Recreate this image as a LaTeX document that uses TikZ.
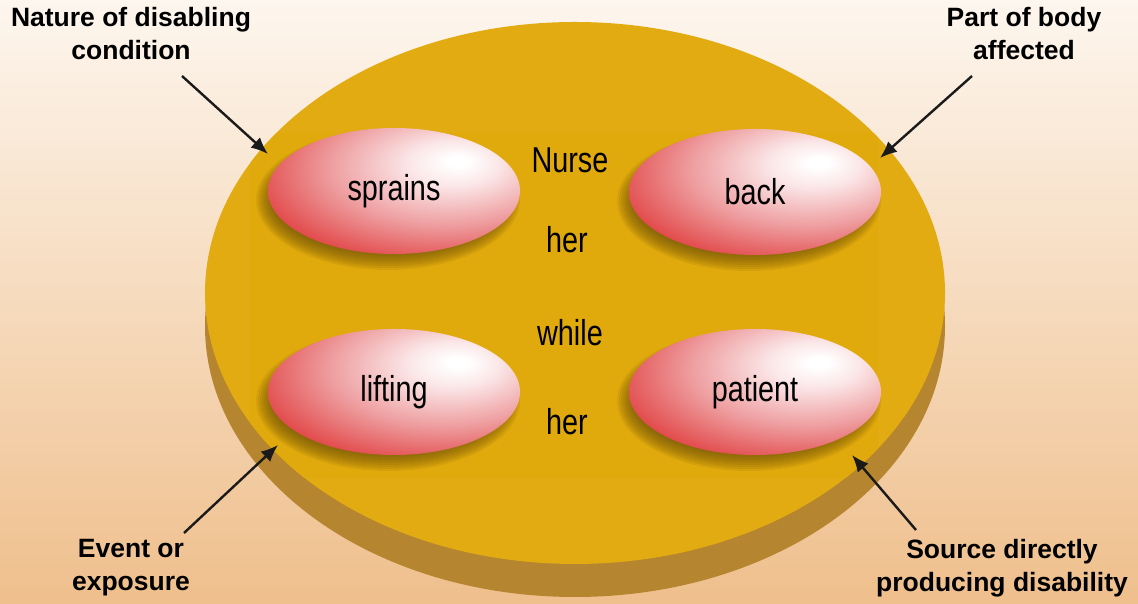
\documentclass[tikz,border=0pt]{standalone}
\usepackage{fontspec}
\setmainfont{Liberation Sans}
\newfontfamily\innerfont[FakeStretch=0.8]{Liberation Sans}
\usetikzlibrary{arrows.meta,calc}
\definecolor{bgtop}{HTML}{FDF6EE}
\definecolor{bgbot}{HTML}{EFBF8C}
\definecolor{gold}{HTML}{E2AB12}
\definecolor{goldin}{HTML}{E1AA0C}
\definecolor{goldside}{HTML}{B5852F}
\definecolor{shadowcol}{HTML}{5E4608}
\definecolor{arrowcol}{HTML}{1A1A1A}
\definecolor{pearlred}{HTML}{E03A3B}
\definecolor{pearlmid}{HTML}{EE9C9E}
\definecolor{pearllight}{HTML}{FBE6E7}
\pgfdeclareradialshading{pearl}{\pgfpoint{13bp}{12bp}}{%
  color(0bp)=(white);
  color(2bp)=(white);
  color(9bp)=(pearllight);
  color(23bp)=(pearlmid);
  color(39bp)=(pearlred);
  color(100bp)=(pearlred)}
\tikzset{
  lbl/.style={font=\fontsize{26.5}{33}\selectfont\bfseries, align=center, text=black},
  word/.style={font=\innerfont\fontsize{36}{40}\selectfont, text=black},
  pointer/.style={draw=arrowcol, line width=2.4pt, -{Latex[length=17pt,width=14pt]}},
}
\newcommand{\pearlnode}[3]{%
  \foreach \i in {0,...,9}{
    \fill[shadowcol, opacity=0.1] ($(#2)+(-6,-9)$) ellipse ({114+2*\i} and {52+2*\i});
  }
  \shade[shading=pearl] (#2) ellipse (126 and 63);
  \node[word] (#1) at (#2) {#3};
}
\begin{document}
\begin{tikzpicture}[x=1pt,y=1pt]
\useasboundingbox (0,0) rectangle (1138,604);
\shade[top color=bgtop, bottom color=bgbot] (0,0) rectangle (1138,604);
% disc
\fill[goldside] (575,278) ellipse (370 and 271);
\fill[gold] (575,311) ellipse (370 and 271);
\begin{scope}
  \clip (575,311) ellipse (370 and 271);
  \fill[goldin] (250,126) rectangle (878,471);
\end{scope}
% pearls
\pearlnode{sprains}{394,413}{sprains}
\pearlnode{back}{755,412}{back}
\pearlnode{lifting}{394,212}{lifting}
\pearlnode{patient}{755,212}{patient}
% middle words
\node[word] (nurse) at (570,444) {Nurse};
\node[word] (her1) at (567,364) {her};
\node[word] (while) at (570,271) {while};
\node[word] (her2) at (567,182) {her};
% labels
\node[lbl] (nature) at (131,570) {Nature of disabling\\condition};
\node[lbl] (part) at (1024,570) {Part of body\\affected};
\node[lbl] (event) at (131,36) {Event or\\exposure};
\node[lbl] (source) at (1002,36) {Source directly\\producing disability};
% arrow ends
\coordinate (a1s) at (182,528); \coordinate (a1e) at (268,450);
\coordinate (a2s) at (972,528); \coordinate (a2e) at (880,446);
\coordinate (a3s) at (184,71);  \coordinate (a3e) at (278,159);
\coordinate (a4s) at (916,74);  \coordinate (a4e) at (852,149);
\draw[pointer] (a1s) -- (a1e);
\draw[pointer] (a2s) -- (a2e);
\draw[pointer] (a3s) -- (a3e);
\draw[pointer] (a4s) -- (a4e);
\end{tikzpicture}
\end{document}
